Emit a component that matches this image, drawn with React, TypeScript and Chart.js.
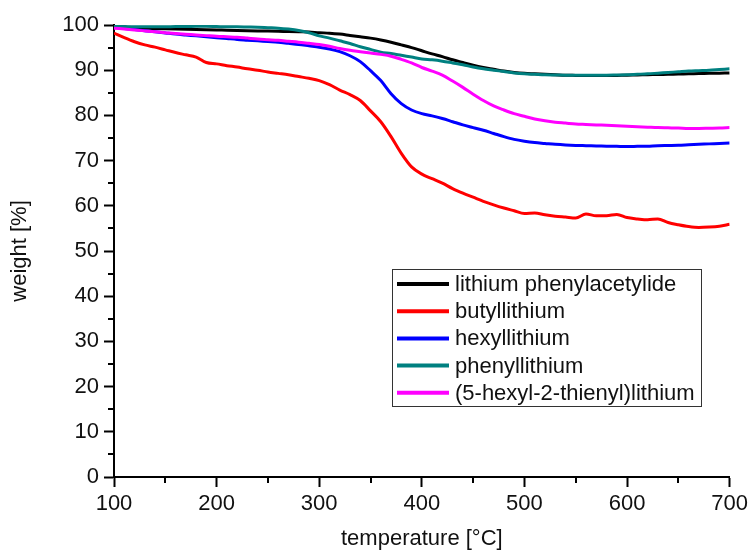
import { useEffect, useRef } from "react";
import { Chart, registerables } from "chart.js";

Chart.register(...registerables);

// Temperature grid (°C)
const TEMPERATURE = [
  100, 110, 120, 130, 140, 150, 160, 170, 180, 190,
  200, 210, 220, 230, 240, 250, 260, 270, 280, 290,
  300, 310, 320, 330, 340, 350, 360, 370, 380, 390,
  400, 410, 420, 430, 440, 450, 460, 470, 480, 490,
  500, 510, 520, 530, 540, 550, 560, 570, 580, 590,
  600, 610, 620, 630, 640, 650, 660, 670, 680, 690,
  700,
];

// Weight [%] for each precursor
const LITHIUM_PHENYLACETYLIDE = [
  99.8, 99.6, 99.4, 99.3, 99.2, 99.15, 99.1, 99.05, 99.0, 98.95,
  98.9, 98.85, 98.8, 98.75, 98.7, 98.65, 98.6, 98.55, 98.5, 98.45,
  98.3, 98.2, 98.0, 97.7, 97.4, 97.1, 96.7, 96.2, 95.6, 95.0,
  94.3, 93.6, 93.0, 92.3, 91.7, 91.1, 90.6, 90.2, 89.8, 89.5,
  89.3, 89.2, 89.1, 89.0, 88.9, 88.85, 88.8, 88.8, 88.8, 88.85,
  88.9, 88.95, 89.0, 89.05, 89.1, 89.15, 89.2, 89.25, 89.3, 89.35,
  89.4,
];

const BUTYLLITHIUM = [
  98.2, 97.2, 96.3, 95.6, 95.1, 94.5, 93.9, 93.4, 92.9, 91.7,
  91.4, 91.0, 90.7, 90.3, 90.0, 89.6, 89.3, 89.0, 88.6, 88.2,
  87.7, 86.8, 85.6, 84.6, 83.3, 81.0, 78.6, 75.3, 71.6, 68.6,
  67.0, 66.0, 65.0, 63.8, 62.8, 61.9, 61.0, 60.2, 59.5, 58.9,
  58.3, 58.4, 58.0, 57.7, 57.5, 57.3, 58.2, 57.8, 57.8, 58.1,
  57.4, 57.1, 56.9, 57.1, 56.3, 55.8, 55.4, 55.2, 55.3, 55.5,
  55.9,
];

const HEXYLLITHIUM = [
  99.5, 99.25, 99.0, 98.75, 98.5, 98.25, 98.0, 97.8, 97.6, 97.4,
  97.2, 97.0, 96.8, 96.65, 96.5, 96.35, 96.2, 95.95, 95.7, 95.4,
  95.1, 94.7, 94.1, 93.2, 91.9, 89.9, 87.7, 84.8, 82.6, 81.2,
  80.4, 79.9, 79.3, 78.6, 77.9, 77.3, 76.7, 76.0, 75.3, 74.7,
  74.3, 74.0, 73.8, 73.6, 73.45, 73.35, 73.3, 73.25, 73.2, 73.15,
  73.1, 73.15, 73.2, 73.3, 73.35, 73.4, 73.5, 73.6, 73.7, 73.8,
  73.9,
];

const PHENYLLITHIUM = [
  99.7, 99.65, 99.6, 99.6, 99.6, 99.6, 99.65, 99.65, 99.7, 99.7,
  99.65, 99.6, 99.6, 99.55, 99.5, 99.4, 99.3, 99.1, 98.8, 98.3,
  97.6, 97.1, 96.5, 95.9, 95.2, 94.6, 94.0, 93.7, 93.3, 92.9,
  92.5, 92.3, 92.0, 91.6, 91.2, 90.7, 90.3, 90.0, 89.7, 89.4,
  89.2, 89.1, 89.0, 88.95, 88.9, 88.9, 88.9, 88.9, 88.9, 88.95,
  89.0, 89.1, 89.2, 89.35, 89.5, 89.65, 89.8, 89.9, 90.0, 90.15,
  90.3,
];

const HEXYLTHIENYLLITHIUM = [
  99.3, 99.1, 98.9, 98.7, 98.5, 98.3, 98.1, 97.95, 97.8, 97.65,
  97.5, 97.4, 97.3, 97.1, 96.9, 96.75, 96.6, 96.4, 96.2, 95.95,
  95.7, 95.3, 94.8, 94.4, 94.1, 93.8, 93.5, 93.1, 92.4, 91.6,
  90.6, 89.8, 88.9, 87.6, 86.2, 84.7, 83.3, 82.1, 81.2, 80.4,
  79.8, 79.2, 78.8, 78.5, 78.3, 78.1, 78.0, 77.9, 77.8, 77.7,
  77.6, 77.5, 77.4, 77.3, 77.25, 77.2, 77.1, 77.1, 77.15, 77.2,
  77.3,
];

const SERIES_NAMES = [
  "lithium phenylacetylide",
  "butyllithium",
  "hexyllithium",
  "phenyllithium",
  "(5-hexyl-2-thienyl)lithium",
];
const SERIES_VALUES = [
  LITHIUM_PHENYLACETYLIDE,
  BUTYLLITHIUM,
  HEXYLLITHIUM,
  PHENYLLITHIUM,
  HEXYLTHIENYLLITHIUM,
];
const SERIES_COLORS = ["#000000", "#ff0000", "#0000ff", "#008080", "#ff00ff"];

const X_MIN = 100;
const X_MAX = 700;
const X_STEP = 100;
const Y_MIN = 0;
const Y_MAX = 100;
const Y_STEP = 10;

const FONT_FAMILY = 'Arial, "Liberation Sans", sans-serif';

// Half-step ticks drawn shorter than the labelled ones
const minorTicks = {
  id: "minorTicks",
  afterDraw(chart: any) {
    const { ctx, scales, chartArea } = chart;
    ctx.save();
    ctx.strokeStyle = "#000";
    ctx.lineWidth = 2;
    const xs = scales.x;
    for (let v = X_MIN + X_STEP / 2; v < X_MAX; v += X_STEP) {
      const px = Math.round(xs.getPixelForValue(v));
      ctx.beginPath();
      ctx.moveTo(px, chartArea.bottom);
      ctx.lineTo(px, chartArea.bottom + 6);
      ctx.stroke();
    }
    const ys = scales.y;
    for (let v = Y_MIN + Y_STEP / 2; v < Y_MAX; v += Y_STEP) {
      const py = Math.round(ys.getPixelForValue(v));
      ctx.beginPath();
      ctx.moveTo(chartArea.left - 6, py);
      ctx.lineTo(chartArea.left, py);
      ctx.stroke();
    }
    ctx.restore();
  },
};

// Boxed legend inside the plot area
const boxLegend = {
  id: "boxLegend",
  afterDraw(chart: any) {
    const { ctx } = chart;
    const left = 392;
    const top = 269;
    const width = 309;
    const height = 137;
    ctx.save();
    ctx.fillStyle = "#fff";
    ctx.fillRect(left, top, width, height);
    ctx.strokeStyle = "#333";
    ctx.lineWidth = 1;
    ctx.strokeRect(left + 0.5, top + 0.5, width, height);
    ctx.font = `22px ${FONT_FAMILY}`;
    ctx.textBaseline = "middle";
    ctx.textAlign = "left";
    chart.data.datasets.forEach((ds: any, i: number) => {
      const y = top + 15 + i * 27.2;
      ctx.strokeStyle = ds.borderColor;
      ctx.lineWidth = 4;
      ctx.beginPath();
      ctx.moveTo(397, y);
      ctx.lineTo(449, y);
      ctx.stroke();
      ctx.fillStyle = "#111";
      ctx.fillText(ds.label, 455, y + 1);
    });
    ctx.restore();
  },
};

export default function App() {
  const canvasRef = useRef<HTMLCanvasElement>(null);

  useEffect(() => {
    if (!canvasRef.current) return;
    const datasets = SERIES_NAMES.map((name, i) => ({
      label: name,
      data: TEMPERATURE.map((t, j) => ({ x: t, y: SERIES_VALUES[i][j] })),
      borderColor: SERIES_COLORS[i],
      backgroundColor: SERIES_COLORS[i],
      borderWidth: 3,
      pointRadius: 0,
      cubicInterpolationMode: "monotone" as const,
      order: SERIES_NAMES.length - i,
    }));

    const tickFont = { family: FONT_FAMILY, size: 22 };

    const chart = new Chart(canvasRef.current, {
      type: "line",
      data: { datasets },
      plugins: [minorTicks, boxLegend],
      options: {
        animation: false,
        responsive: false,
        maintainAspectRatio: false,
        layout: { padding: { top: 25, right: 22, left: 0, bottom: 0 } },
        plugins: {
          legend: { display: false },
          tooltip: { enabled: false },
        },
        scales: {
          x: {
            type: "linear",
            min: X_MIN,
            max: X_MAX,
            afterFit: (scale: any) => {
              scale.height = 73;
            },
            ticks: {
              stepSize: X_STEP,
              color: "#111",
              font: tickFont,
              padding: 4,
              maxRotation: 0,
            },
            grid: {
              drawOnChartArea: false,
              drawTicks: true,
              tickLength: 10,
              tickWidth: 2,
              tickColor: "#000",
            },
            border: { display: true, color: "#000", width: 2 },
            title: {
              display: true,
              text: "temperature [°C]",
              color: "#111",
              font: { family: FONT_FAMILY, size: 22, lineHeight: 1 },
              padding: { top: 0, bottom: 0 },
            },
          },
          y: {
            type: "linear",
            min: Y_MIN,
            max: Y_MAX,
            afterFit: (scale: any) => {
              scale.width = 114;
            },
            ticks: {
              stepSize: Y_STEP,
              color: "#111",
              font: tickFont,
              padding: 5,
            },
            grid: {
              drawOnChartArea: false,
              drawTicks: true,
              tickLength: 10,
              tickWidth: 2,
              tickColor: "#000",
            },
            border: { display: true, color: "#000", width: 2 },
            title: {
              display: true,
              text: "weight [%]",
              color: "#111",
              font: { family: FONT_FAMILY, size: 22, lineHeight: 1 },
              padding: { top: 9, bottom: 0 },
            },
          },
        },
      },
    });
    return () => chart.destroy();
  }, []);

  return (
    <div
      style={{
        position: "fixed",
        left: 0,
        top: 0,
        width: 752,
        height: 550,
        background: "#fff",
      }}
    >
      <canvas ref={canvasRef} width={752} height={550} />
    </div>
  );
}
